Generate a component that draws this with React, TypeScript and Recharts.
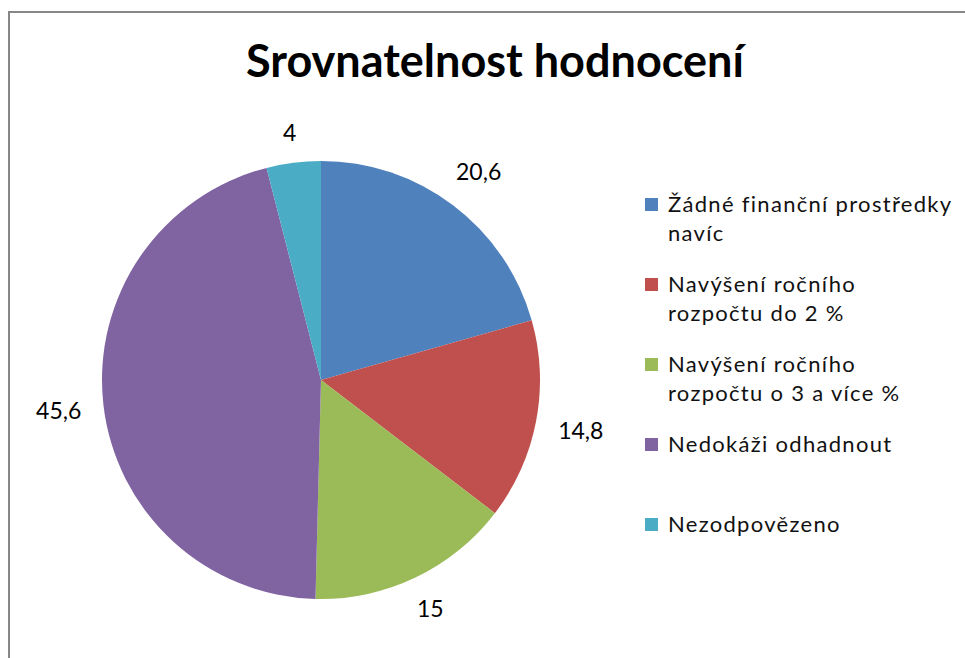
import { PieChart, Pie, Cell, Legend } from "recharts";

const categories = [
  "Žádné finanční prostředky navíc",
  "Navýšení ročního rozpočtu do 2 %",
  "Navýšení ročního rozpočtu o 3 a více %",
  "Nedokáži odhadnout",
  "Nezodpovězeno",
];
const values = [20.6, 14.8, 15, 45.6, 4];
const colors = ["#4f81bd", "#c0504d", "#9bbb59", "#8064a2", "#4bacc6"];

// legend lines as broken in the original
const legendLines = [
  ["Žádné finanční prostředky", "navíc"],
  ["Navýšení ročního", "rozpočtu do 2 %"],
  ["Navýšení ročního", "rozpočtu o 3 a více %"],
  ["Nedokáži odhadnout"],
  ["Nezodpovězeno"],
];

const data = categories.map((name, i) => ({ name, value: values[i] }));

const FONT = "Lato, 'Liberation Sans', sans-serif";
const RAD = Math.PI / 180;

function formatValue(v: number) {
  return String(v).replace(".", ",");
}

function renderLabel(props: any) {
  const { cx, cy, midAngle, outerRadius, value } = props;
  const text = formatValue(value);
  const w = text.length * 12;
  const h = 20;
  const c = Math.cos(-midAngle * RAD);
  const s = Math.sin(-midAngle * RAD);
  const r = outerRadius + 20 + (Math.abs(c) * w) / 2 + (Math.abs(s) * h) / 2;
  return (
    <text
      x={cx + r * c}
      y={cy + r * s}
      textAnchor="middle"
      dominantBaseline="central"
      fontFamily={FONT}
      fontSize={23}
      fill="#000"
    >
      {text}
    </text>
  );
}

function LegendBox() {
  return (
    <div style={{ position: "relative", width: 320, height: 400 }}>
      {legendLines.map((lines, i) => (
        <div
          key={i}
          style={{
            position: "absolute",
            left: 0,
            top: i * 80,
            display: "flex",
            alignItems: "flex-start",
          }}
        >
          <div
            style={{
              width: 13,
              height: 13,
              background: colors[i],
              marginTop: 9,
              marginRight: 10,
            }}
          />
          <div
            style={{
              fontFamily: FONT,
              fontSize: 22,
              lineHeight: "29px",
              letterSpacing: 1.3,
              color: "#111",
              whiteSpace: "nowrap",
            }}
          >
            {lines.map((l, j) => (
              <div key={j}>{l}</div>
            ))}
          </div>
        </div>
      ))}
    </div>
  );
}

export default function App() {
  return (
    <div
      style={{
        position: "fixed",
        left: 0,
        top: 0,
        width: 965,
        height: 658,
        overflow: "hidden",
        background: "#fff",
      }}
    >
      <div
        style={{
          position: "absolute",
          left: 8,
          top: 11,
          width: 1000,
          height: 700,
          borderLeft: "2px solid #878787",
          borderTop: "2px solid #878787",
        }}
      />
      <div
        style={{
          position: "absolute",
          left: 0,
          top: 35,
          width: 990,
          textAlign: "center",
          fontFamily: FONT,
          fontWeight: 700,
          fontSize: 45,
          lineHeight: "50px",
          color: "#000",
        }}
      >
        Srovnatelnost hodnocení
      </div>
      <div style={{ position: "absolute", left: 0, top: 0 }}>
        <PieChart width={965} height={658} margin={{ top: 0, right: 0, bottom: 0, left: 0 }}>
          <Pie
            data={data}
            dataKey="value"
            nameKey="name"
            cx={321}
            cy={380}
            outerRadius={219}
            startAngle={90}
            endAngle={-270}
            stroke="none"
            label={renderLabel}
            labelLine={false}
            isAnimationActive={false}
          >
            {data.map((d, i) => (
              <Cell key={d.name} fill={colors[i]} />
            ))}
          </Pie>
          <Legend
            content={() => <LegendBox />}
            wrapperStyle={{ position: "absolute", left: 645, top: 189, width: 320 }}
          />
        </PieChart>
      </div>
    </div>
  );
}
